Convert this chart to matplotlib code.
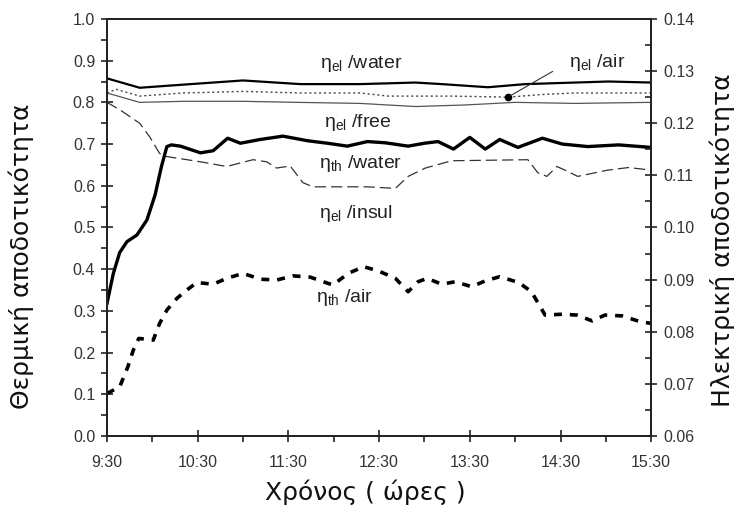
import matplotlib
matplotlib.use("Agg")
import matplotlib.pyplot as plt
from matplotlib.ticker import MultipleLocator, FixedLocator

plt.rcParams["font.family"] = ["Liberation Sans", "DejaVu Sans"]
plt.rcParams["mathtext.fontset"] = "custom"
plt.rcParams["mathtext.rm"] = "Liberation Sans"

# time in hours (9.5 = 9:30)
tick_hours = [9.5, 10.5, 11.5, 12.5, 13.5, 14.5, 15.5]
tick_labels = ["9:30", "10:30", "11:30", "12:30", "13:30", "14:30", "15:30"]

# thermal efficiency (left axis)
t_th_water = [9.5, 9.57, 9.64, 9.72, 9.83, 9.94, 10.03, 10.1, 10.16, 10.21, 10.31,
              10.53, 10.67, 10.83, 10.97, 11.19, 11.44, 11.71, 11.93, 12.15, 12.37,
              12.57, 12.82, 13.0, 13.15, 13.32, 13.5, 13.67, 13.83, 14.03, 14.3,
              14.52, 14.8, 15.14, 15.5]
th_water = [0.318, 0.39, 0.44, 0.466, 0.482, 0.518, 0.578, 0.646, 0.694, 0.698, 0.695,
            0.679, 0.684, 0.714, 0.702, 0.711, 0.719, 0.708, 0.702, 0.695, 0.706,
            0.703, 0.695, 0.702, 0.706, 0.688, 0.716, 0.688, 0.711, 0.692, 0.714,
            0.70, 0.694, 0.698, 0.692]

t_th_air = [9.5, 9.64, 9.73, 9.79, 9.85, 10.01, 10.08, 10.16, 10.27, 10.38, 10.49,
            10.67, 10.82, 11.0, 11.19, 11.37, 11.55, 11.74, 11.99, 12.16, 12.33,
            12.49, 12.68, 12.82, 12.93, 13.03, 13.19, 13.34, 13.52, 13.67, 13.83,
            14.04, 14.18, 14.33, 14.52, 14.68, 14.85, 14.99, 15.18, 15.38, 15.5]
th_air = [0.102, 0.118, 0.166, 0.206, 0.234, 0.23, 0.27, 0.302, 0.33, 0.35, 0.368,
          0.364, 0.378, 0.39, 0.376, 0.374, 0.384, 0.381, 0.362, 0.39, 0.406,
          0.396, 0.378, 0.346, 0.37, 0.378, 0.364, 0.37, 0.358, 0.372, 0.382,
          0.368, 0.346, 0.29, 0.292, 0.29, 0.276, 0.29, 0.288, 0.274, 0.27]

# electrical efficiency (right axis)
t_el_water = [9.5, 9.86, 10.34, 11.0, 11.63, 12.29, 12.9, 13.19, 13.7, 14.11, 14.66, 15.03, 15.5]
el_water = [0.1286, 0.1268, 0.1274, 0.1282, 0.1275, 0.1275, 0.1278, 0.1275, 0.1269,
            0.1275, 0.1278, 0.128, 0.1278]

t_el_air = [9.5, 9.6, 9.86, 10.34, 11.0, 11.63, 12.29, 12.6, 13.3, 13.92, 14.3, 14.66, 15.5]
el_air = [0.1258, 0.1265, 0.1252, 0.1258, 0.1261, 0.1258, 0.1258, 0.1252, 0.1252,
          0.125, 0.1255, 0.1258, 0.1258]

t_el_free = [9.5, 9.86, 10.34, 11.0, 11.6, 12.29, 12.9, 13.45, 14.0, 14.66, 15.5]
el_free = [0.1258, 0.124, 0.1242, 0.1242, 0.124, 0.1238, 0.1232, 0.1235, 0.124, 0.1238, 0.124]

t_el_insul = [9.5, 9.64, 9.86, 9.97, 10.08, 10.16, 10.53, 10.82, 11.11, 11.26, 11.37,
              11.52, 11.66, 11.77, 12.37, 12.68, 12.82, 13.01, 13.3, 14.14, 14.25,
              14.35, 14.46, 14.55, 14.69, 15.02, 15.25, 15.5]
el_insul = [0.124, 0.1226, 0.12, 0.1174, 0.1142, 0.1136, 0.1126, 0.1117, 0.113, 0.1126,
            0.1114, 0.1118, 0.1086, 0.1078, 0.1078, 0.1075, 0.1098, 0.1114, 0.1128,
            0.113, 0.1105, 0.1098, 0.1117, 0.111, 0.1098, 0.111, 0.1115, 0.111]

fig = plt.figure(figsize=(7.4, 5.12), dpi=100)
ax = fig.add_axes([0.1446, 0.1484, 0.7354, 0.8146])
ax2 = ax.twinx()

ax.plot(t_th_water, th_water, color="black", lw=2.4, solid_joinstyle="round")
ax.plot(t_th_air, th_air, color="black", lw=2.6, dashes=(2.2, 2.2))

ax2.plot(t_el_water, el_water, color="black", lw=1.6)
ax2.plot(t_el_air, el_air, color="#444444", lw=1.0, dashes=(1.5, 2.0))
ax2.plot(t_el_free, el_free, color="#555555", lw=0.9)
ax2.plot(t_el_insul, el_insul, color="#333333", lw=0.9, dashes=(9, 4))
ax2.plot([13.92], [0.125], "o", color="black", ms=4.5)
ax2.annotate("", xy=(13.92, 0.125), xytext=(14.44, 0.1302),
             arrowprops=dict(arrowstyle="-", color="#333333", lw=0.8))

ax.set_xlim(9.5, 15.5)
ax.set_ylim(0.0, 1.0)
ax2.set_ylim(0.06, 0.14)

ax.xaxis.set_major_locator(FixedLocator(tick_hours))
ax.set_xticklabels(tick_labels)
ax.xaxis.set_minor_locator(MultipleLocator(0.5))
ax.yaxis.set_major_locator(MultipleLocator(0.1))
ax.yaxis.set_minor_locator(MultipleLocator(0.05))
ax.yaxis.set_major_formatter(plt.FormatStrFormatter("%.1f"))
ax2.yaxis.set_major_locator(MultipleLocator(0.01))
ax2.yaxis.set_minor_locator(MultipleLocator(0.005))
ax2.yaxis.set_major_formatter(plt.FormatStrFormatter("%.2f"))

for a in (ax, ax2):
    for s in a.spines.values():
        s.set_linewidth(1.3)
        s.set_color("#222222")
ax.tick_params(which="major", direction="inout", length=9, width=1.2,
               labelsize=11.5, labelcolor="#333333", color="#222222")
ax.tick_params(which="minor", direction="out", length=4, width=1.2, color="#222222")
ax2.tick_params(which="major", direction="inout", length=9, width=1.2,
                labelsize=11.5, labelcolor="#333333", color="#222222")
ax2.tick_params(which="minor", direction="in", length=4, width=1.2, color="#222222")
ax.tick_params(axis="x", pad=9)
ax.tick_params(axis="y", pad=4)
ax2.tick_params(axis="y", pad=4)

lab = dict(fontsize=14, color="#222222", ha="center", va="center")
ax.text(12.3, 0.893, r"$\mathregular{η_{el}}$ /water", **lab)
ax.text(14.9, 0.895, r"$\mathregular{η_{el}}$ /air", **lab)
ax.text(12.27, 0.752, r"$\mathregular{η_{el}}$ /free", **lab)
ax.text(12.3, 0.654, r"$\mathregular{η_{th}}$ /water", **lab)
ax.text(12.25, 0.534, r"$\mathregular{η_{el}}$ /insul", **lab)
ax.text(12.12, 0.332, r"$\mathregular{η_{th}}$ /air", **lab)

axis_font = dict(fontsize=18, family="DejaVu Sans", va="center", color="#111111")
ax.set_ylabel("Θερμική αποδοτικότητα", **axis_font)
ax.yaxis.set_label_coords(-0.158, 0.43)
ax2.set_ylabel("Ηλεκτρική αποδοτικότητα", **axis_font)
ax2.yaxis.set_label_coords(1.13, 0.47)
ax.set_xlabel("Χρόνος ( ώρες )", **axis_font)
ax.xaxis.set_label_coords(0.474, -0.136)

fig.savefig("out.png", dpi=100)
